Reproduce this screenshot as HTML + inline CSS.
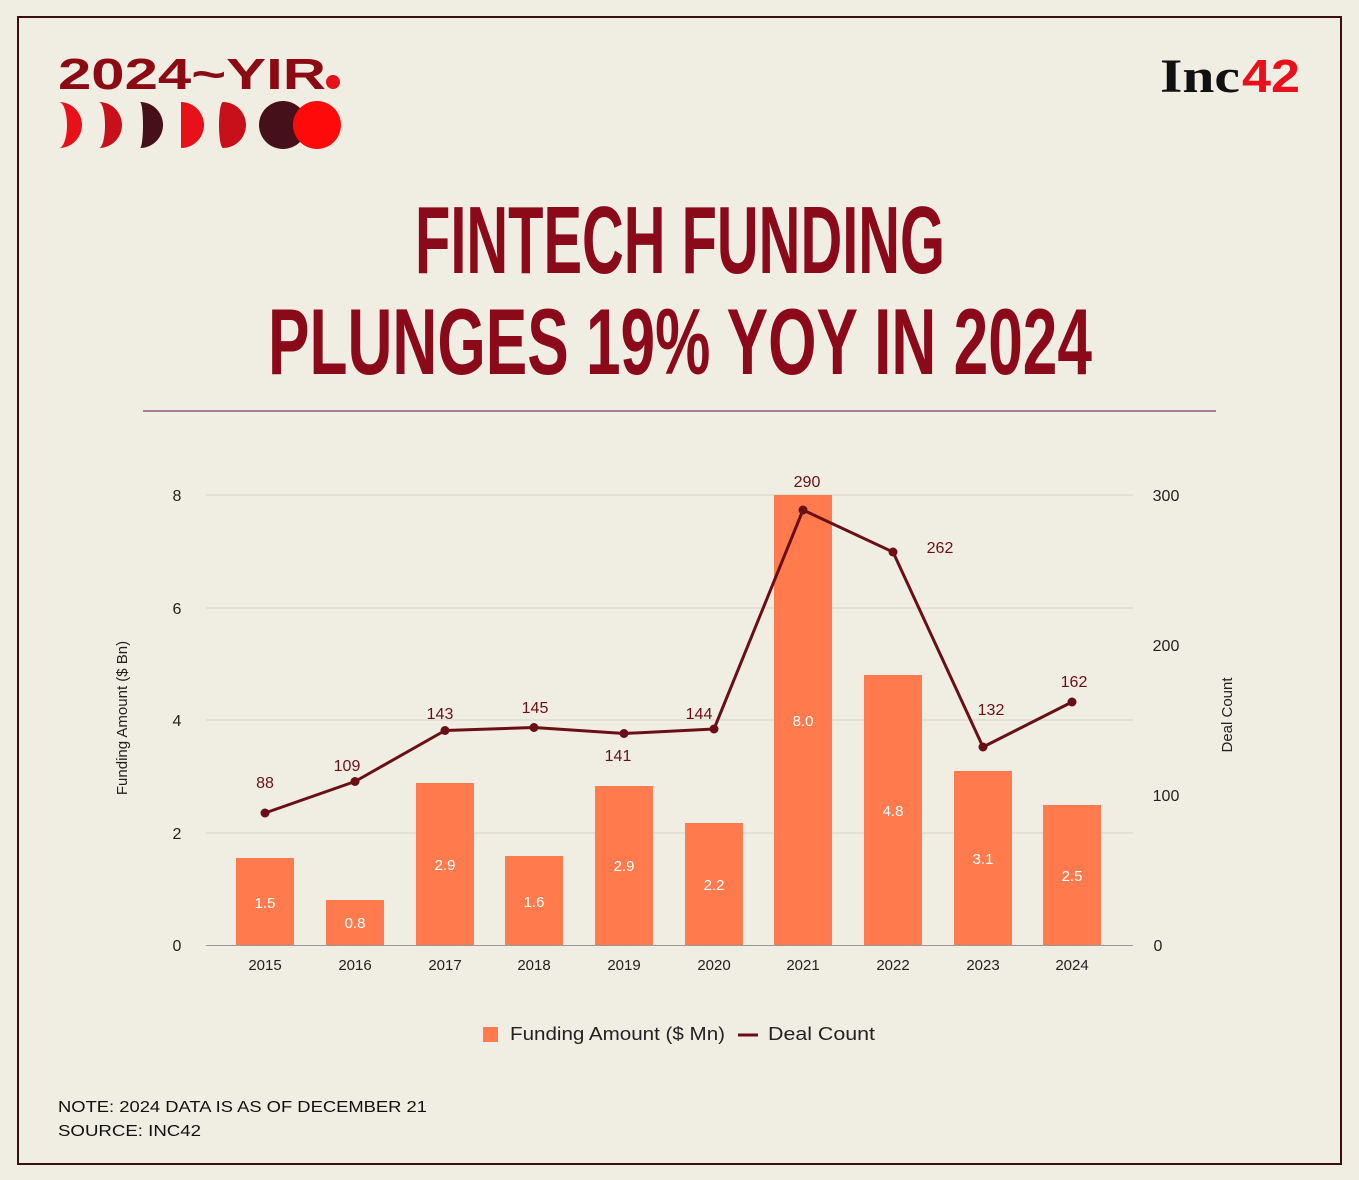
<!DOCTYPE html>
<html><head><meta charset="utf-8"><style>
html,body{margin:0;padding:0;background:#f0ede3;}
svg{display:block;font-family:"Liberation Sans",sans-serif;}
</style></head><body>
<svg width="1359" height="1180" viewBox="0 0 1359 1180" xmlns="http://www.w3.org/2000/svg">
<rect width="1359" height="1180" fill="#f0ede3"/>
<rect x="18" y="17" width="1323" height="1147" fill="none" stroke="#3a1010" stroke-width="2"/>
<!-- logo -->
<text x="58" y="89" font-size="44" font-weight="bold" fill="#8b0a14" textLength="268" lengthAdjust="spacingAndGlyphs">2024~YIR</text>
<circle cx="333" cy="82" r="7" fill="#e8101a"/>
<path d="M59 102 A23 23 0 0 1 59 148 A8 23 0 0 0 59 102Z" fill="#e8101a"/>
<path d="M99 102 A23 23 0 0 1 99 148 A6 23 0 0 0 99 102Z" fill="#c8101a"/>
<path d="M140 102 A23 23 0 0 1 140 148 A3 23 0 0 0 140 102Z" fill="#45101a"/>
<path d="M181 102 A23 23 0 0 1 181 148 Z" fill="#e8101a"/>
<path d="M223 102 A23 23 0 0 1 223 148 A4 23 0 0 1 223 102Z" fill="#c8101a"/>
<circle cx="283" cy="125" r="24" fill="#45101a"/>
<circle cx="317" cy="125" r="24" fill="#ff0a0a"/>
<text x="1160" y="92" font-family="Liberation Serif,serif" font-size="48" font-weight="bold" fill="#111" textLength="80" lengthAdjust="spacingAndGlyphs">Inc</text>
<text x="1242" y="92" font-size="46" font-weight="bold" fill="#e8101a" textLength="58" lengthAdjust="spacingAndGlyphs">42</text>
<!-- title -->
<text x="680" y="273" text-anchor="middle" font-family="Liberation Sans Narrow,Liberation Sans,sans-serif" font-size="96" font-weight="bold" fill="#8b0a1a" textLength="530" lengthAdjust="spacingAndGlyphs">FINTECH FUNDING</text>
<text x="680" y="374" text-anchor="middle" font-family="Liberation Sans Narrow,Liberation Sans,sans-serif" font-size="94" font-weight="bold" fill="#8b0a1a" textLength="824" lengthAdjust="spacingAndGlyphs">PLUNGES 19% YOY IN 2024</text>
<line x1="143" y1="411" x2="1216" y2="411" stroke="#7a3a6a" stroke-width="1.2"/>
<!-- grid -->
<g stroke="#d6d3c8" stroke-width="1">
<line x1="206" y1="495" x2="1133" y2="495"/><line x1="206" y1="608" x2="1133" y2="608"/>
<line x1="206" y1="720" x2="1133" y2="720"/><line x1="206" y1="833" x2="1133" y2="833"/>
</g>
<line x1="206" y1="945.5" x2="1133" y2="945.5" stroke="#999" stroke-width="1"/>
<g font-size="16" fill="#222" text-anchor="middle">
<text x="177" y="501">8</text><text x="177" y="614">6</text><text x="177" y="726">4</text><text x="177" y="839">2</text><text x="177" y="951">0</text>
<text x="1166" y="501">300</text><text x="1166" y="651">200</text><text x="1166" y="801">100</text><text x="1158" y="951">0</text>
</g>
<text transform="translate(127 718) rotate(-90)" font-size="15" fill="#222" text-anchor="middle">Funding Amount ($ Bn)</text>
<text transform="translate(1232 715) rotate(-90)" font-size="15" fill="#222" text-anchor="middle">Deal Count</text>
<!-- bars -->
<g fill="#ff7a4d">
<rect x="236" y="858" width="58" height="87"/>
<rect x="326" y="900" width="58" height="45"/>
<rect x="416" y="783" width="58" height="162"/>
<rect x="505" y="856" width="58" height="89"/>
<rect x="595" y="786" width="58" height="159"/>
<rect x="685" y="823" width="58" height="122"/>
<rect x="774" y="495" width="58" height="450"/>
<rect x="864" y="675" width="58" height="270"/>
<rect x="954" y="771" width="58" height="174"/>
<rect x="1043" y="805" width="58" height="140"/>
</g>
<g font-size="15" fill="#fff" text-anchor="middle">
<text x="265" y="908">1.5</text><text x="355" y="928">0.8</text><text x="445" y="870">2.9</text>
<text x="534" y="907">1.6</text><text x="624" y="871">2.9</text><text x="714" y="890">2.2</text>
<text x="803" y="726">8.0</text><text x="893" y="816">4.8</text><text x="983" y="864">3.1</text><text x="1072" y="881">2.5</text>
</g>
<g font-size="15" fill="#222" text-anchor="middle">
<text x="265" y="970">2015</text><text x="355" y="970">2016</text><text x="445" y="970">2017</text>
<text x="534" y="970">2018</text><text x="624" y="970">2019</text><text x="714" y="970">2020</text>
<text x="803" y="970">2021</text><text x="893" y="970">2022</text><text x="983" y="970">2023</text><text x="1072" y="970">2024</text>
</g>
<!-- line -->
<polyline fill="none" stroke="#6b0f16" stroke-width="3" stroke-linejoin="round" points="265,813 355,781.5 445,730.5 534,727.5 624,733.5 714,729 803,510 893,552 983,747 1072,702"/>
<g fill="#6b0f16">
<circle cx="265" cy="813" r="4.5"/><circle cx="355" cy="781.5" r="4.5"/><circle cx="445" cy="730.5" r="4.5"/>
<circle cx="534" cy="727.5" r="4.5"/><circle cx="624" cy="733.5" r="4.5"/><circle cx="714" cy="729" r="4.5"/>
<circle cx="803" cy="510" r="4.5"/><circle cx="893" cy="552" r="4.5"/><circle cx="983" cy="747" r="4.5"/><circle cx="1072" cy="702" r="4.5"/>
</g>
<g font-size="16" fill="#6b0f16" text-anchor="middle">
<text x="265" y="788">88</text><text x="347" y="771">109</text><text x="440" y="719">143</text>
<text x="535" y="713">145</text><text x="618" y="761">141</text><text x="699" y="719">144</text>
<text x="807" y="487">290</text><text x="940" y="553">262</text><text x="991" y="715">132</text><text x="1074" y="687">162</text>
</g>
<!-- legend -->
<rect x="483" y="1027" width="15" height="15" fill="#ff7a4d"/>
<text x="510" y="1040" font-size="18" fill="#222" textLength="215" lengthAdjust="spacingAndGlyphs">Funding Amount ($ Mn)</text>
<line x1="738" y1="1035" x2="758" y2="1035" stroke="#6b0f16" stroke-width="3"/>
<text x="768" y="1040" font-size="18" fill="#222" textLength="107" lengthAdjust="spacingAndGlyphs">Deal Count</text>
<text x="58" y="1112" font-size="16" fill="#111" textLength="369" lengthAdjust="spacingAndGlyphs">NOTE: 2024 DATA IS AS OF DECEMBER 21</text>
<text x="58" y="1136" font-size="16" fill="#111" textLength="143" lengthAdjust="spacingAndGlyphs">SOURCE: INC42</text>
</svg>
</body></html>
